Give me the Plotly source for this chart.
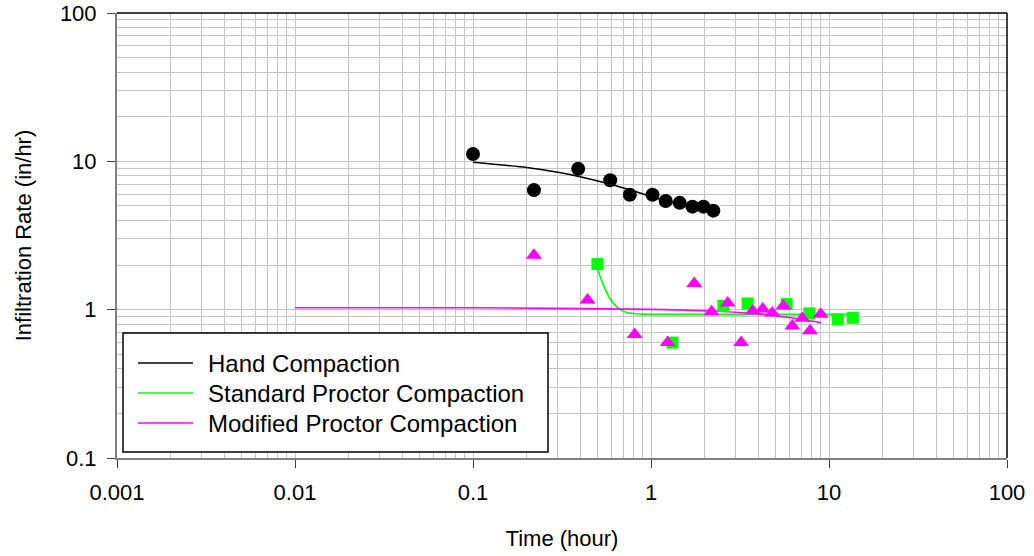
import plotly.graph_objects as go

# Measured infiltration rates (in/hr) against elapsed time (hour)
hand_time = [0.1, 0.22, 0.39, 0.59, 0.76, 1.02, 1.21, 1.45, 1.71, 1.97, 2.24]
hand_rate = [11.2, 6.4, 8.9, 7.45, 5.95, 5.95, 5.4, 5.25, 4.95, 4.95, 4.65]

std_time = [0.5, 1.32, 2.55, 3.49, 5.78, 7.75, 11.2, 13.6]
std_rate = [2.03, 0.6, 1.06, 1.10, 1.09, 0.944, 0.86, 0.882]

mod_time = [0.22, 0.44, 0.81, 1.24, 1.75, 2.19, 2.70, 3.21, 3.73, 4.24,
            4.80, 5.54, 6.22, 7.08, 7.82, 8.98]
mod_rate = [2.33, 1.16, 0.68, 0.60, 1.50, 0.97, 1.11, 0.60, 0.98, 1.01,
            0.95, 1.06, 0.775, 0.874, 0.72, 0.933]

# Fitted trend curves
hand_fit_time = [0.1, 0.2, 0.3, 0.4, 0.6, 0.8, 1.0, 1.3, 1.6, 2.0, 2.24]
hand_fit_rate = [9.86, 9.09, 8.44, 7.87, 6.97, 6.30, 5.80, 5.29, 4.97, 4.71, 4.62]

std_fit_time = [0.5, 0.52, 0.55, 0.59, 0.63, 0.67, 0.72, 0.8, 0.9, 1.1, 2.0, 13.6]
std_fit_rate = [1.90, 1.65, 1.39, 1.18, 1.068, 1.006, 0.966, 0.941, 0.933, 0.93, 0.93, 0.93]

mod_fit_time = [0.01, 0.1, 1.0, 2.0, 4.0, 6.0, 9.0]
mod_fit_rate = [1.03, 1.03, 1.005, 0.983, 0.937, 0.885, 0.818]

series_names = ["Hand Compaction", "Standard Proctor Compaction", "Modified Proctor Compaction"]
series_colors = ["#000000", "#00ff00", "#ff00ff"]

x_ticks = [0.001, 0.01, 0.1, 1, 10, 100]
x_tick_text = ["0.001", "0.01", "0.1", "1", "10", "100"]
y_ticks = [0.1, 1, 10, 100]
y_tick_text = ["0.1", "1", "10", "100"]

FONT = "Liberation Sans, Arial, sans-serif"

fig = go.Figure()

fits = [(hand_fit_time, hand_fit_rate), (std_fit_time, std_fit_rate), (mod_fit_time, mod_fit_rate)]
for (t, r), name, col in zip(fits, series_names, series_colors):
    fig.add_trace(go.Scatter(x=t, y=r, mode="lines", name=name,
                             line=dict(color=col, width=1.6, shape="spline", smoothing=0.6),
                             showlegend=False))

fig.add_trace(go.Scatter(x=hand_time, y=hand_rate, mode="markers", showlegend=False,
                         marker=dict(symbol="circle", size=14, color=series_colors[0])))
fig.add_trace(go.Scatter(x=std_time, y=std_rate, mode="markers", showlegend=False,
                         marker=dict(symbol="square", size=12, color=series_colors[1])))
fig.add_trace(go.Scatter(x=mod_time, y=mod_rate, mode="markers", showlegend=False,
                         marker=dict(symbol="triangle-up", size=14, color=series_colors[2])))

grid_col = "#c4c4c4"
axis_common = dict(
    type="log", showgrid=True, gridcolor=grid_col, gridwidth=1,
    showline=True, linecolor="#808080", linewidth=2, mirror=False,
    ticks="outside", ticklen=8, tickcolor="#404040", tickwidth=1,
    tickfont=dict(family=FONT, size=22, color="#000000"),
    minor=dict(dtick="D1", showgrid=True, gridcolor=grid_col, gridwidth=1, ticks=""),
    zeroline=False, automargin=False,
)

fig.update_xaxes(range=[-3, 2], tickvals=x_ticks, ticktext=x_tick_text,
                 ticklabelstandoff=6,
                 title=dict(text="Time (hour)", font=dict(family=FONT, size=22, color="#000000"),
                            standoff=26),
                 **axis_common)
fig.update_yaxes(range=[-1, 2], tickvals=y_ticks, ticktext=y_tick_text,
                 ticklabelstandoff=6,
                 title=dict(text="Infiltration Rate (in/hr)", font=dict(family=FONT, size=22, color="#000000"),
                            standoff=22),
                 **axis_common)

shapes = [
    # top and right frame lines
    dict(type="line", xref="paper", yref="paper", x0=0, x1=1, y0=1, y1=1,
         line=dict(color="#000000", width=1.5), layer="above"),
    dict(type="line", xref="paper", yref="paper", x0=1, x1=1, y0=0, y1=1,
         line=dict(color="#000000", width=1.5), layer="above"),
]

# Legend box with line samples
W, H = 890.0, 445.0
def px(xp):
    return (xp - 117) / W
def py(yp):
    return (458 - yp) / H

shapes.append(dict(type="rect", xref="paper", yref="paper",
                   x0=px(123), x1=px(548), y0=py(452), y1=py(333),
                   fillcolor="#ffffff", line=dict(color="#000000", width=1.5), layer="above"))
annotations = []
row_y = [363, 393, 423]
for name, col, yy in zip(series_names, series_colors, row_y):
    shapes.append(dict(type="line", xref="paper", yref="paper",
                       x0=px(138), x1=px(193), y0=py(yy), y1=py(yy),
                       line=dict(color=col, width=1.5), layer="above"))
    annotations.append(dict(xref="paper", yref="paper", x=px(206), y=py(yy),
                            text=name, showarrow=False, xanchor="left", yanchor="middle",
                            font=dict(family=FONT, size=24, color="#000000")))

fig.update_layout(
    width=1034, height=556,
    margin=dict(l=117, r=27, t=13, b=98),
    paper_bgcolor="#ffffff", plot_bgcolor="#ffffff",
    shapes=shapes, annotations=annotations,
    showlegend=False,
    font=dict(family=FONT),
)

fig.write_html("out.html")
